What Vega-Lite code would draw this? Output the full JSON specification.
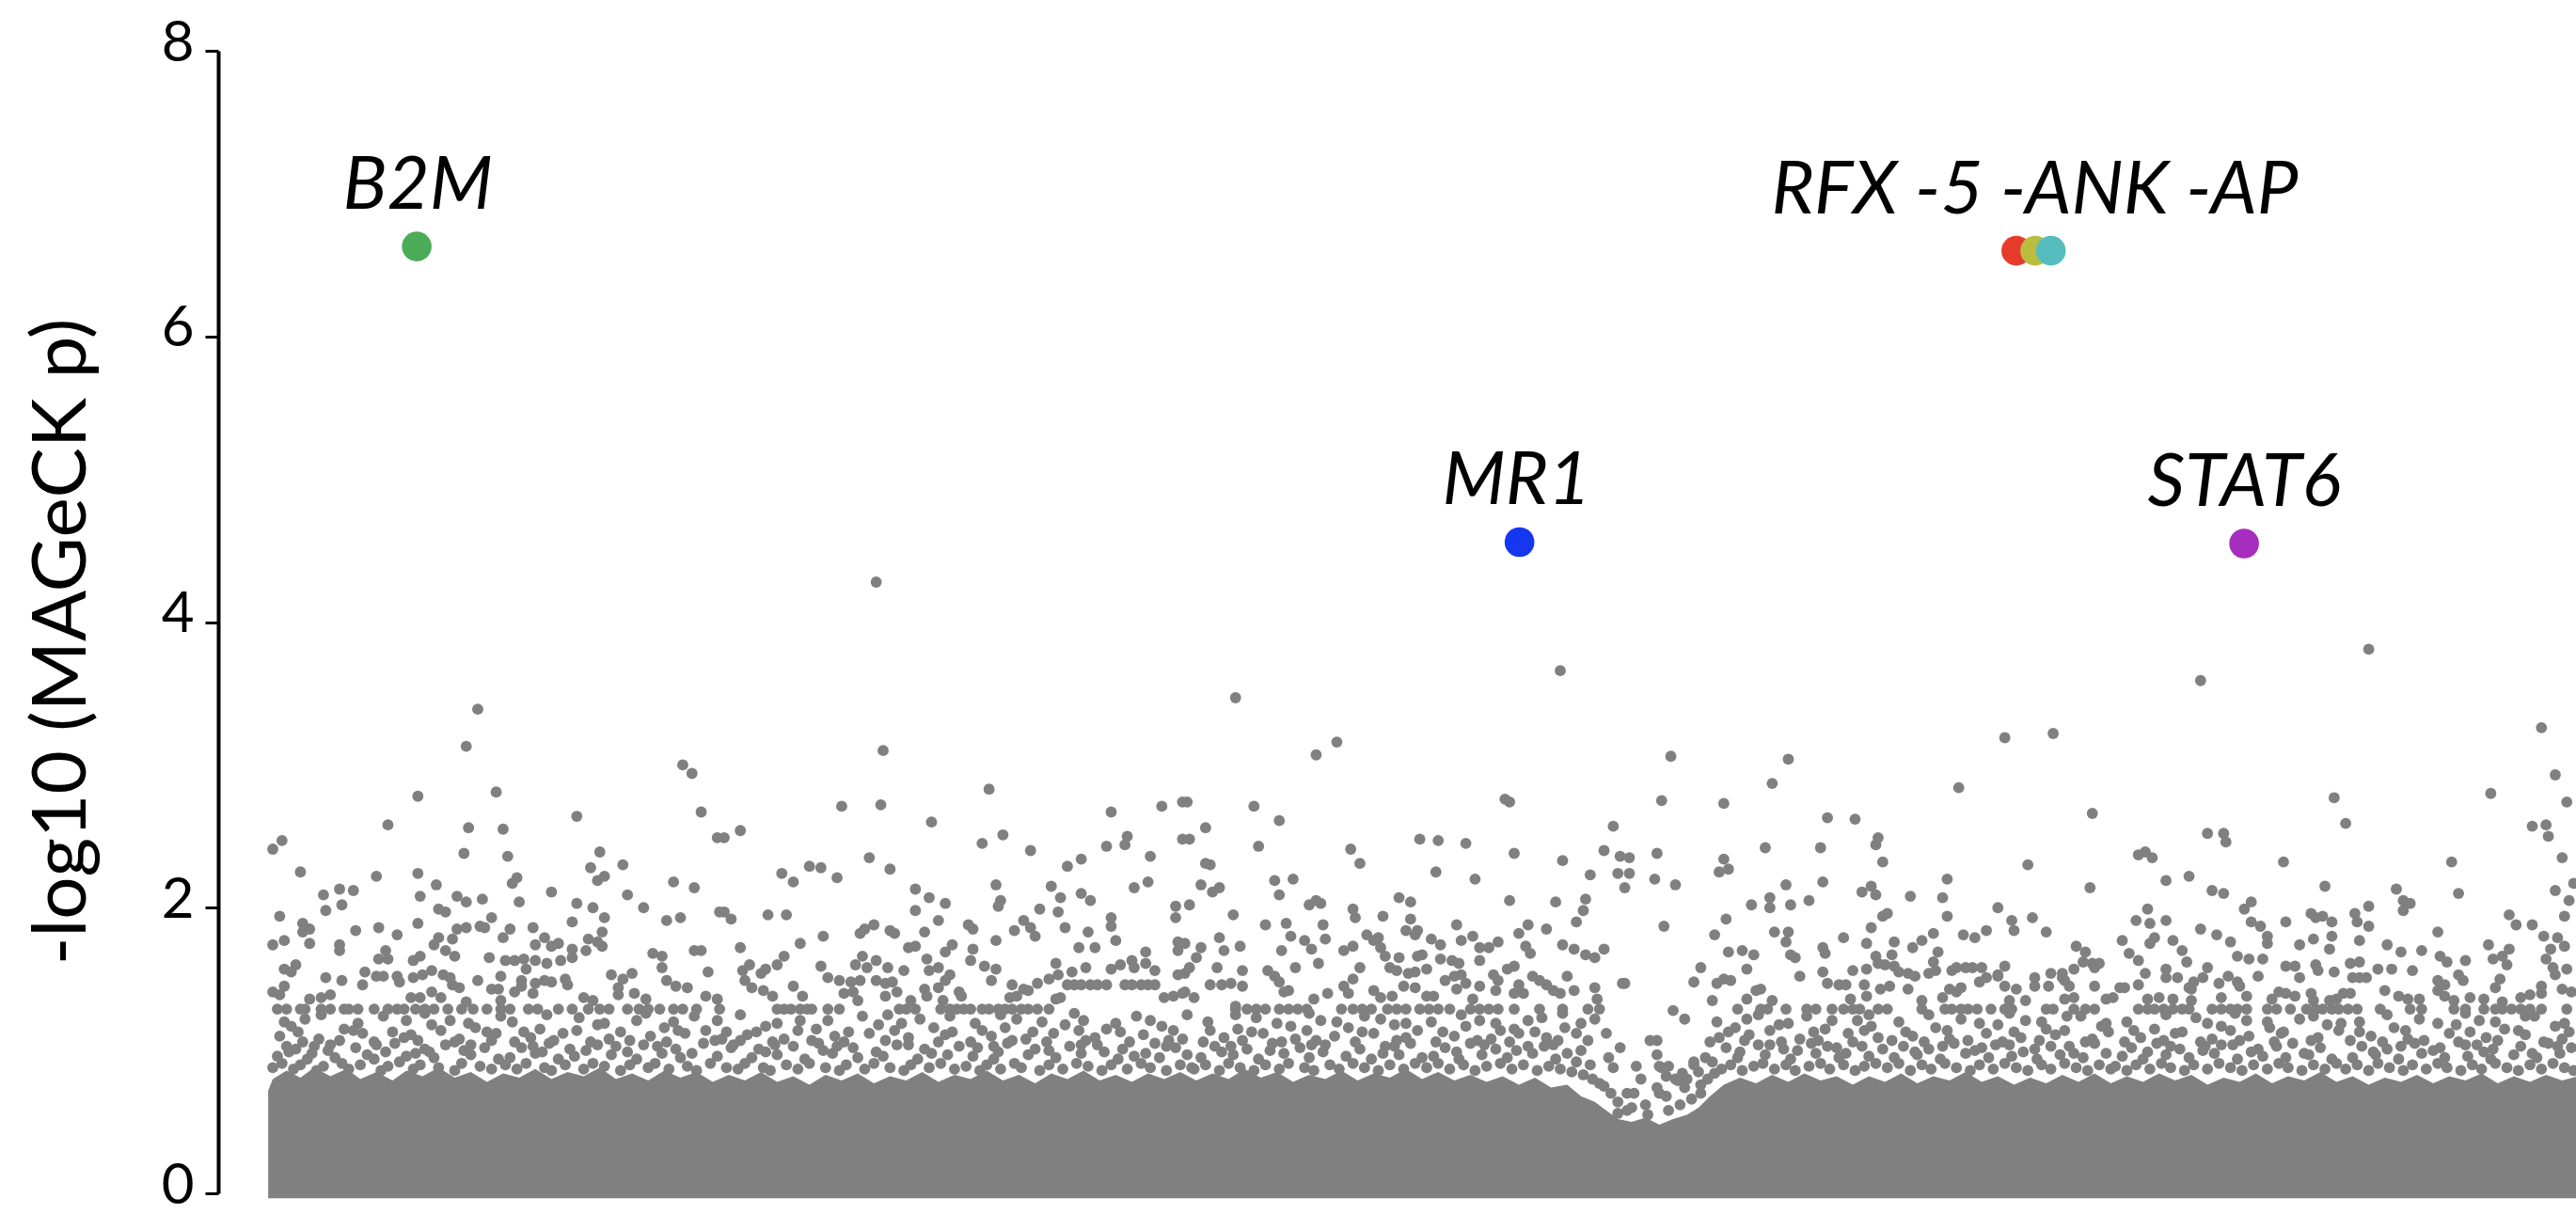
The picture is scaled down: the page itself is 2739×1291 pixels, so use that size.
{
"$schema":"https://vega.github.io/schema/vega-lite/v6.json",
"autosize":{"type":"none"},
"width":2507,"height":1215,
"padding":{"left":232,"top":54,"right":0,"bottom":22},
"background":"white",
"config":{"view":{"stroke":null},"font":"Lato"},
"datasets":{
"band":[{"u":-2,"v":0.72},{"u":0,"v":0.80},{"u":6,"v":0.86},{"u":12,"v":0.81},{"u":18,"v":0.88},{"u":25,"v":0.82},{"u":32,"v":0.87},{"u":38,"v":0.80},{"u":45,"v":0.85},{"u":52,"v":0.79},{"u":58,"v":0.86},{"u":65,"v":0.82},{"u":72,"v":0.88},{"u":79,"v":0.81},{"u":86,"v":0.85},{"u":93,"v":0.78},{"u":100,"v":0.84},{"u":107,"v":0.81},{"u":114,"v":0.87},{"u":121,"v":0.80},{"u":128,"v":0.85},{"u":135,"v":0.82},{"u":142,"v":0.88},{"u":149,"v":0.80},{"u":156,"v":0.84},{"u":163,"v":0.79},{"u":170,"v":0.86},{"u":177,"v":0.81},{"u":184,"v":0.85},{"u":191,"v":0.78},{"u":198,"v":0.83},{"u":205,"v":0.79},{"u":212,"v":0.85},{"u":219,"v":0.78},{"u":226,"v":0.82},{"u":233,"v":0.76},{"u":240,"v":0.83},{"u":247,"v":0.79},{"u":254,"v":0.84},{"u":261,"v":0.77},{"u":268,"v":0.82},{"u":275,"v":0.79},{"u":282,"v":0.85},{"u":289,"v":0.78},{"u":296,"v":0.83},{"u":303,"v":0.80},{"u":310,"v":0.86},{"u":317,"v":0.79},{"u":324,"v":0.83},{"u":331,"v":0.77},{"u":338,"v":0.84},{"u":345,"v":0.80},{"u":352,"v":0.86},{"u":359,"v":0.79},{"u":366,"v":0.83},{"u":373,"v":0.78},{"u":380,"v":0.84},{"u":387,"v":0.80},{"u":394,"v":0.85},{"u":401,"v":0.79},{"u":408,"v":0.84},{"u":415,"v":0.80},{"u":422,"v":0.87},{"u":429,"v":0.81},{"u":436,"v":0.85},{"u":443,"v":0.78},{"u":450,"v":0.83},{"u":457,"v":0.80},{"u":464,"v":0.86},{"u":471,"v":0.79},{"u":478,"v":0.84},{"u":485,"v":0.81},{"u":492,"v":0.87},{"u":499,"v":0.80},{"u":506,"v":0.85},{"u":513,"v":0.79},{"u":520,"v":0.83},{"u":527,"v":0.78},{"u":534,"v":0.82},{"u":541,"v":0.76},{"u":548,"v":0.81},{"u":555,"v":0.74},{"u":562,"v":0.76},{"u":568,"v":0.68},{"u":574,"v":0.64},{"u":579,"v":0.58},{"u":584,"v":0.52},{"u":590,"v":0.50},{"u":596,"v":0.53},{"u":602,"v":0.48},{"u":608,"v":0.52},{"u":614,"v":0.55},{"u":619,"v":0.60},{"u":624,"v":0.68},{"u":630,"v":0.76},{"u":637,"v":0.81},{"u":644,"v":0.77},{"u":651,"v":0.83},{"u":658,"v":0.78},{"u":665,"v":0.84},{"u":672,"v":0.79},{"u":679,"v":0.82},{"u":686,"v":0.76},{"u":693,"v":0.82},{"u":700,"v":0.78},{"u":707,"v":0.84},{"u":714,"v":0.77},{"u":721,"v":0.82},{"u":728,"v":0.79},{"u":735,"v":0.85},{"u":742,"v":0.78},{"u":749,"v":0.82},{"u":756,"v":0.76},{"u":763,"v":0.81},{"u":770,"v":0.77},{"u":777,"v":0.83},{"u":784,"v":0.78},{"u":791,"v":0.84},{"u":798,"v":0.77},{"u":805,"v":0.82},{"u":812,"v":0.78},{"u":819,"v":0.84},{"u":826,"v":0.79},{"u":833,"v":0.83},{"u":840,"v":0.76},{"u":847,"v":0.81},{"u":854,"v":0.78},{"u":861,"v":0.84},{"u":868,"v":0.77},{"u":875,"v":0.82},{"u":882,"v":0.79},{"u":889,"v":0.85},{"u":896,"v":0.78},{"u":903,"v":0.82},{"u":910,"v":0.76},{"u":917,"v":0.81},{"u":924,"v":0.78},{"u":931,"v":0.83},{"u":938,"v":0.77},{"u":945,"v":0.82},{"u":952,"v":0.79},{"u":959,"v":0.84},{"u":966,"v":0.77},{"u":973,"v":0.82},{"u":980,"v":0.78},{"u":987,"v":0.83},{"u":994,"v":0.79},{"u":1001,"v":0.82},{"u":1010,"v":0.80}],
"genes":[
{"u":89,"v":3.39},{"u":84,"v":3.13},{"u":178,"v":3.00},{"u":182,"v":2.94},{"u":63,"v":2.78},{"u":97,"v":2.81},{"u":186,"v":2.67},{"u":132,"v":2.64},{"u":50,"v":2.58},{"u":85,"v":2.56},{"u":100,"v":2.55},{"u":4,"v":2.47},{"u":0,"v":2.41},{"u":193,"v":2.49},{"u":83,"v":2.38},{"u":102,"v":2.36},{"u":142,"v":2.39},{"u":12,"v":2.25},{"u":63,"v":2.24},{"u":152,"v":2.30},{"u":138,"v":2.28},{"u":141,"v":2.19},{"u":144,"v":2.22},{"u":45,"v":2.22},{"u":106,"v":2.21},{"u":104,"v":2.17},{"u":71,"v":2.16},{"u":174,"v":2.18},{"u":183,"v":2.14},{"u":29,"v":2.13},{"u":35,"v":2.12},{"u":30,"v":2.02},{"u":22,"v":2.09},{"u":23,"v":1.98},{"u":121,"v":2.11},{"u":154,"v":2.09},{"u":64,"v":2.08},{"u":80,"v":2.08},{"u":84,"v":2.04},{"u":91,"v":2.06},{"u":107,"v":2.04},{"u":132,"v":2.03},{"u":139,"v":2.00},{"u":161,"v":2.00},{"u":72,"v":1.99},{"u":75,"v":1.97},{"u":194,"v":1.97},{"u":3,"v":1.94},{"u":144,"v":1.93},{"u":130,"v":1.90},{"u":63,"v":1.89},{"u":95,"v":1.93},{"u":171,"v":1.91},{"u":177,"v":1.93},{"u":13,"v":1.89},{"u":16,"v":1.85},{"u":13,"v":1.83},{"u":36,"v":1.84},{"u":46,"v":1.86},{"u":54,"v":1.81},{"u":80,"v":1.85},{"u":84,"v":1.86},{"u":90,"v":1.87},{"u":92,"v":1.86},{"u":103,"v":1.85},{"u":113,"v":1.86},{"u":143,"v":1.83},{"u":0,"v":1.74},{"u":5,"v":1.77},{"u":16,"v":1.75},{"u":29,"v":1.74},{"u":29,"v":1.70},{"u":72,"v":1.79},{"u":70,"v":1.74},{"u":78,"v":1.78},{"u":100,"v":1.79},{"u":118,"v":1.79},{"u":114,"v":1.74},{"u":124,"v":1.75},{"u":121,"v":1.73},{"u":130,"v":1.71},{"u":136,"v":1.70},{"u":137,"v":1.78},{"u":141,"v":1.76},{"u":143,"v":1.73},{"u":183,"v":1.70},{"u":186,"v":1.70},{"u":49,"v":1.70},{"u":46,"v":1.64},{"u":50,"v":1.64},{"u":61,"v":1.63},{"u":64,"v":1.66},{"u":75,"v":1.70},{"u":79,"v":1.66},{"u":94,"v":1.65},{"u":101,"v":1.63},{"u":105,"v":1.63},{"u":109,"v":1.64},{"u":114,"v":1.63},{"u":119,"v":1.61},{"u":125,"v":1.63},{"u":130,"v":1.65},{"u":165,"v":1.68},{"u":169,"v":1.66},{"u":10,"v":1.60},{"u":5,"v":1.57},{"u":8,"v":1.55},{"u":40,"v":1.55},{"u":45,"v":1.52},{"u":48,"v":1.52},{"u":23,"v":1.51},{"u":30,"v":1.49},{"u":54,"v":1.52},{"u":55,"v":1.48},{"u":61,"v":1.51},{"u":65,"v":1.53},{"u":69,"v":1.56},{"u":74,"v":1.53},{"u":77,"v":1.51},{"u":78,"v":1.46},{"u":81,"v":1.44},{"u":89,"v":1.49},{"u":99,"v":1.52},{"u":110,"v":1.57},{"u":108,"v":1.49},{"u":114,"v":1.47},{"u":118,"v":1.49},{"u":121,"v":1.48},{"u":127,"v":1.50},{"u":128,"v":1.46},{"u":147,"v":1.53},{"u":152,"v":1.50},{"u":156,"v":1.54},{"u":169,"v":1.58},{"u":171,"v":1.49},{"u":175,"v":1.45},{"u":180,"v":1.44},{"u":189,"v":1.55},{"u":0,"v":1.41},{"u":3,"v":1.39},{"u":5,"v":1.45},{"u":16,"v":1.36},{"u":21,"v":1.37},{"u":25,"v":1.39},{"u":39,"v":1.46},{"u":60,"v":1.37},{"u":64,"v":1.37},{"u":69,"v":1.41},{"u":73,"v":1.37},{"u":95,"v":1.43},{"u":98,"v":1.43},{"u":99,"v":1.35},{"u":84,"v":1.34},{"u":105,"v":1.41},{"u":108,"v":1.45},{"u":113,"v":1.40},{"u":135,"v":1.37},{"u":139,"v":1.35},{"u":150,"v":1.44},{"u":150,"v":1.39},{"u":157,"v":1.40},{"u":162,"v":1.36},{"u":188,"v":1.38},{"u":193,"v":1.36},
{"u":262,"v":4.28},{"u":265,"v":3.10},{"u":311,"v":2.83},{"u":247,"v":2.71},{"u":264,"v":2.72},{"u":364,"v":2.67},{"u":386,"v":2.71},{"u":395,"v":2.74},{"u":286,"v":2.60},{"u":203,"v":2.54},{"u":196,"v":2.49},{"u":317,"v":2.51},{"u":308,"v":2.45},{"u":329,"v":2.40},{"u":371,"v":2.50},{"u":370,"v":2.44},{"u":362,"v":2.43},{"u":395,"v":2.48},{"u":259,"v":2.35},{"u":351,"v":2.34},{"u":345,"v":2.29},{"u":381,"v":2.36},{"u":221,"v":2.24},{"u":226,"v":2.18},{"u":233,"v":2.29},{"u":238,"v":2.28},{"u":245,"v":2.21},{"u":268,"v":2.27},{"u":314,"v":2.16},{"u":316,"v":2.05},{"u":315,"v":2.01},{"u":374,"v":2.14},{"u":380,"v":2.18},{"u":279,"v":2.13},{"u":285,"v":2.07},{"u":292,"v":2.03},{"u":279,"v":1.98},{"u":338,"v":2.15},{"u":342,"v":2.07},{"u":351,"v":2.10},{"u":355,"v":2.05},{"u":333,"v":1.99},{"u":341,"v":1.97},{"u":392,"v":2.01},{"u":392,"v":1.93},{"u":196,"v":1.97},{"u":199,"v":1.92},{"u":215,"v":1.95},{"u":223,"v":1.95},{"u":289,"v":1.91},{"u":364,"v":1.93},{"u":364,"v":1.87},{"u":366,"v":1.77},{"u":261,"v":1.88},{"u":257,"v":1.85},{"u":255,"v":1.82},{"u":268,"v":1.84},{"u":270,"v":1.82},{"u":283,"v":1.83},{"u":302,"v":1.88},{"u":304,"v":1.85},{"u":326,"v":1.91},{"u":329,"v":1.86},{"u":331,"v":1.80},{"u":322,"v":1.84},{"u":344,"v":1.86},{"u":354,"v":1.83},{"u":239,"v":1.80},{"u":229,"v":1.75},{"u":314,"v":1.77},{"u":203,"v":1.72},{"u":393,"v":1.76},{"u":393,"v":1.70},{"u":350,"v":1.72},{"u":357,"v":1.72},{"u":276,"v":1.72},{"u":279,"v":1.73},{"u":295,"v":1.74},{"u":292,"v":1.69},{"u":304,"v":1.71},{"u":303,"v":1.63},{"u":379,"v":1.69},{"u":222,"v":1.66},{"u":219,"v":1.60},{"u":207,"v":1.60},{"u":204,"v":1.56},{"u":214,"v":1.57},{"u":212,"v":1.54},{"u":238,"v":1.59},{"u":256,"v":1.66},{"u":258,"v":1.58},{"u":262,"v":1.63},{"u":267,"v":1.58},{"u":253,"v":1.60},{"u":274,"v":1.56},{"u":284,"v":1.64},{"u":285,"v":1.56},{"u":289,"v":1.58},{"u":309,"v":1.59},{"u":314,"v":1.57},{"u":340,"v":1.61},{"u":347,"v":1.55},{"u":353,"v":1.58},{"u":364,"v":1.57},{"u":368,"v":1.60},{"u":373,"v":1.63},{"u":374,"v":1.58},{"u":379,"v":1.61},{"u":383,"v":1.56},{"u":393,"v":1.53},{"u":205,"v":1.49},{"u":208,"v":1.44},{"u":213,"v":1.42},{"u":217,"v":1.38},{"u":226,"v":1.45},{"u":230,"v":1.38},{"u":241,"v":1.51},{"u":246,"v":1.49},{"u":251,"v":1.48},{"u":255,"v":1.49},{"u":252,"v":1.41},{"u":248,"v":1.40},{"u":254,"v":1.35},{"u":262,"v":1.49},{"u":266,"v":1.47},{"u":269,"v":1.48},{"u":266,"v":1.38},{"u":271,"v":1.41},{"u":277,"v":1.35},{"u":283,"v":1.43},{"u":284,"v":1.38},{"u":289,"v":1.44},{"u":292,"v":1.49},{"u":294,"v":1.53},{"u":291,"v":1.35},{"u":298,"v":1.41},{"u":299,"v":1.38},{"u":312,"v":1.49},{"u":321,"v":1.46},{"u":326,"v":1.43},{"u":328,"v":1.42},{"u":332,"v":1.47},{"u":320,"v":1.37},{"u":323,"v":1.38},{"u":337,"v":1.50},{"u":341,"v":1.53},{"u":340,"v":1.36},{"u":342,"v":1.37},{"u":345,"v":1.46},{"u":348,"v":1.46},{"u":351,"v":1.46},{"u":355,"v":1.46},{"u":358,"v":1.46},{"u":362,"v":1.46},{"u":370,"v":1.46},{"u":373,"v":1.46},{"u":377,"v":1.46},{"u":380,"v":1.46},{"u":383,"v":1.46},{"u":387,"v":1.37},{"u":391,"v":1.38},{"u":395,"v":1.40},
{"u":418,"v":3.47},{"u":559,"v":3.66},{"u":462,"v":3.16},{"u":453,"v":3.07},{"u":535,"v":2.76},{"u":537,"v":2.74},{"u":397,"v":2.74},{"u":426,"v":2.71},{"u":437,"v":2.61},{"u":405,"v":2.56},{"u":398,"v":2.48},{"u":428,"v":2.43},{"u":498,"v":2.48},{"u":506,"v":2.47},{"u":518,"v":2.45},{"u":468,"v":2.41},{"u":472,"v":2.31},{"u":539,"v":2.38},{"u":582,"v":2.57},{"u":578,"v":2.40},{"u":585,"v":2.36},{"u":589,"v":2.35},{"u":560,"v":2.33},{"u":405,"v":2.31},{"u":407,"v":2.30},{"u":505,"v":2.25},{"u":572,"v":2.23},{"u":584,"v":2.24},{"u":589,"v":2.24},{"u":587,"v":2.14},{"u":522,"v":2.20},{"u":435,"v":2.19},{"u":443,"v":2.20},{"u":437,"v":2.09},{"u":403,"v":2.16},{"u":408,"v":2.11},{"u":411,"v":2.14},{"u":398,"v":2.02},{"u":450,"v":2.02},{"u":453,"v":2.05},{"u":455,"v":2.03},{"u":489,"v":2.07},{"u":494,"v":2.04},{"u":537,"v":2.05},{"u":557,"v":2.04},{"u":570,"v":2.06},{"u":569,"v":1.98},{"u":566,"v":1.90},{"u":469,"v":1.99},{"u":470,"v":1.93},{"u":417,"v":1.95},{"u":482,"v":1.94},{"u":494,"v":1.92},{"u":492,"v":1.84},{"u":497,"v":1.84},{"u":496,"v":1.81},{"u":431,"v":1.88},{"u":440,"v":1.89},{"u":456,"v":1.88},{"u":442,"v":1.80},{"u":448,"v":1.77},{"u":457,"v":1.78},{"u":514,"v":1.88},{"u":545,"v":1.88},{"u":553,"v":1.85},{"u":541,"v":1.82},{"u":475,"v":1.81},{"u":480,"v":1.79},{"u":503,"v":1.78},{"u":507,"v":1.74},{"u":516,"v":1.77},{"u":521,"v":1.80},{"u":532,"v":1.76},{"u":524,"v":1.72},{"u":528,"v":1.72},{"u":544,"v":1.73},{"u":546,"v":1.68},{"u":560,"v":1.74},{"u":565,"v":1.71},{"u":578,"v":1.71},{"u":570,"v":1.67},{"u":574,"v":1.65},{"u":396,"v":1.75},{"u":403,"v":1.72},{"u":401,"v":1.65},{"u":411,"v":1.79},{"u":413,"v":1.70},{"u":420,"v":1.73},{"u":438,"v":1.70},{"u":451,"v":1.71},{"u":454,"v":1.61},{"u":465,"v":1.70},{"u":469,"v":1.73},{"u":478,"v":1.77},{"u":481,"v":1.72},{"u":483,"v":1.66},{"u":489,"v":1.65},{"u":497,"v":1.66},{"u":499,"v":1.67},{"u":507,"v":1.64},{"u":512,"v":1.63},{"u":515,"v":1.61},{"u":524,"v":1.63},{"u":536,"v":1.57},{"u":539,"v":1.59},{"u":410,"v":1.58},{"u":398,"v":1.58},{"u":396,"v":1.54},{"u":421,"v":1.56},{"u":432,"v":1.56},{"u":435,"v":1.52},{"u":437,"v":1.48},{"u":439,"v":1.41},{"u":444,"v":1.58},{"u":472,"v":1.58},{"u":485,"v":1.58},{"u":488,"v":1.56},{"u":493,"v":1.54},{"u":496,"v":1.55},{"u":501,"v":1.57},{"u":469,"v":1.50},{"u":465,"v":1.45},{"u":467,"v":1.40},{"u":478,"v":1.42},{"u":481,"v":1.37},{"u":486,"v":1.38},{"u":491,"v":1.45},{"u":496,"v":1.44},{"u":501,"v":1.38},{"u":504,"v":1.38},{"u":509,"v":1.49},{"u":513,"v":1.52},{"u":516,"v":1.53},{"u":514,"v":1.43},{"u":518,"v":1.47},{"u":521,"v":1.36},{"u":524,"v":1.45},{"u":530,"v":1.53},{"u":532,"v":1.49},{"u":531,"v":1.42},{"u":541,"v":1.46},{"u":539,"v":1.40},{"u":543,"v":1.40},{"u":547,"v":1.52},{"u":550,"v":1.49},{"u":553,"v":1.46},{"u":556,"v":1.42},{"u":559,"v":1.40},{"u":562,"v":1.52},{"u":565,"v":1.42},{"u":574,"v":1.44},{"u":575,"v":1.36},{"u":586,"v":1.47},{"u":407,"v":1.46},{"u":412,"v":1.46},{"u":416,"v":1.47},{"u":421,"v":1.45},{"u":441,"v":1.42},{"u":452,"v":1.36},{"u":458,"v":1.40},{"u":396,"v":1.41},{"u":400,"v":1.37},{"u":418,"v":1.31},
{"u":752,"v":3.19},{"u":773,"v":3.22},{"u":607,"v":3.06},{"u":658,"v":3.04},{"u":651,"v":2.87},{"u":732,"v":2.84},{"u":603,"v":2.75},{"u":630,"v":2.73},{"u":675,"v":2.63},{"u":687,"v":2.62},{"u":790,"v":2.66},{"u":697,"v":2.49},{"u":696,"v":2.44},{"u":601,"v":2.38},{"u":648,"v":2.42},{"u":672,"v":2.42},{"u":699,"v":2.32},{"u":762,"v":2.30},{"u":630,"v":2.34},{"u":632,"v":2.27},{"u":628,"v":2.25},{"u":600,"v":2.20},{"u":609,"v":2.16},{"u":657,"v":2.16},{"u":673,"v":2.18},{"u":727,"v":2.20},{"u":789,"v":2.14},{"u":690,"v":2.11},{"u":694,"v":2.15},{"u":696,"v":2.09},{"u":711,"v":2.08},{"u":725,"v":2.07},{"u":642,"v":2.02},{"u":650,"v":2.07},{"u":650,"v":2.00},{"u":659,"v":2.02},{"u":667,"v":2.05},{"u":749,"v":2.00},{"u":631,"v":1.92},{"u":701,"v":1.96},{"u":699,"v":1.94},{"u":727,"v":1.94},{"u":755,"v":1.91},{"u":756,"v":1.84},{"u":764,"v":1.93},{"u":604,"v":1.87},{"u":694,"v":1.86},{"u":626,"v":1.81},{"u":652,"v":1.83},{"u":658,"v":1.83},{"u":657,"v":1.76},{"u":682,"v":1.79},{"u":692,"v":1.75},{"u":704,"v":1.76},{"u":721,"v":1.82},{"u":716,"v":1.77},{"u":712,"v":1.72},{"u":734,"v":1.81},{"u":739,"v":1.79},{"u":744,"v":1.84},{"u":770,"v":1.83},{"u":632,"v":1.69},{"u":638,"v":1.70},{"u":643,"v":1.67},{"u":659,"v":1.67},{"u":661,"v":1.65},{"u":673,"v":1.72},{"u":674,"v":1.68},{"u":696,"v":1.66},{"u":703,"v":1.67},{"u":697,"v":1.61},{"u":723,"v":1.69},{"u":783,"v":1.73},{"u":787,"v":1.69},{"u":620,"v":1.58},{"u":640,"v":1.57},{"u":673,"v":1.55},{"u":686,"v":1.56},{"u":692,"v":1.57},{"u":700,"v":1.60},{"u":704,"v":1.59},{"u":706,"v":1.55},{"u":710,"v":1.54},{"u":713,"v":1.52},{"u":719,"v":1.54},{"u":722,"v":1.56},{"u":721,"v":1.62},{"u":729,"v":1.56},{"u":731,"v":1.58},{"u":735,"v":1.58},{"u":738,"v":1.58},{"u":742,"v":1.58},{"u":749,"v":1.53},{"u":752,"v":1.59},{"u":772,"v":1.54},{"u":777,"v":1.54},{"u":778,"v":1.49},{"u":782,"v":1.57},{"u":786,"v":1.62},{"u":790,"v":1.61},{"u":793,"v":1.61},{"u":791,"v":1.58},{"u":617,"v":1.48},{"u":627,"v":1.47},{"u":630,"v":1.50},{"u":633,"v":1.49},{"u":663,"v":1.52},{"u":675,"v":1.47},{"u":680,"v":1.46},{"u":683,"v":1.46},{"u":691,"v":1.46},{"u":698,"v":1.43},{"u":702,"v":1.45},{"u":710,"v":1.43},{"u":716,"v":1.35},{"u":725,"v":1.37},{"u":728,"v":1.43},{"u":731,"v":1.41},{"u":733,"v":1.44},{"u":741,"v":1.48},{"u":744,"v":1.51},{"u":749,"v":1.52},{"u":752,"v":1.45},{"u":757,"v":1.43},{"u":765,"v":1.51},{"u":765,"v":1.45},{"u":771,"v":1.45},{"u":777,"v":1.51},{"u":780,"v":1.45},{"u":791,"v":1.45},{"u":796,"v":1.36},{"u":625,"v":1.35},{"u":640,"v":1.36},{"u":644,"v":1.42},{"u":646,"v":1.43},{"u":651,"v":1.35},{"u":685,"v":1.36},{"u":692,"v":1.38},{"u":754,"v":1.35},{"u":761,"v":1.35},{"u":778,"v":1.36},{"u":782,"v":1.37},
{"u":910,"v":3.81},{"u":837,"v":3.59},{"u":985,"v":3.26},{"u":991,"v":2.93},{"u":895,"v":2.77},{"u":963,"v":2.80},{"u":996,"v":2.74},{"u":900,"v":2.59},{"u":981,"v":2.57},{"u":987,"v":2.58},{"u":988,"v":2.50},{"u":840,"v":2.52},{"u":847,"v":2.52},{"u":848,"v":2.46},{"u":813,"v":2.39},{"u":810,"v":2.37},{"u":816,"v":2.35},{"u":873,"v":2.32},{"u":946,"v":2.32},{"u":994,"v":2.35},{"u":822,"v":2.19},{"u":832,"v":2.22},{"u":891,"v":2.15},{"u":842,"v":2.12},{"u":847,"v":2.10},{"u":922,"v":2.13},{"u":949,"v":2.10},{"u":991,"v":2.12},{"u":999,"v":2.17},{"u":997,"v":2.05},{"u":925,"v":2.05},{"u":928,"v":2.03},{"u":925,"v":1.98},{"u":859,"v":2.04},{"u":856,"v":1.99},{"u":814,"v":1.99},{"u":910,"v":2.01},{"u":885,"v":1.96},{"u":887,"v":1.93},{"u":890,"v":1.94},{"u":904,"v":1.96},{"u":905,"v":1.90},{"u":910,"v":1.87},{"u":971,"v":1.95},{"u":974,"v":1.88},{"u":981,"v":1.88},{"u":995,"v":1.94},{"u":809,"v":1.91},{"u":815,"v":1.89},{"u":822,"v":1.91},{"u":874,"v":1.90},{"u":894,"v":1.90},{"u":859,"v":1.90},{"u":863,"v":1.87},{"u":837,"v":1.85},{"u":844,"v":1.81},{"u":940,"v":1.83},{"u":817,"v":1.79},{"u":815,"v":1.75},{"u":803,"v":1.77},{"u":825,"v":1.77},{"u":850,"v":1.76},{"u":866,"v":1.80},{"u":866,"v":1.75},{"u":880,"v":1.74},{"u":886,"v":1.78},{"u":894,"v":1.80},{"u":893,"v":1.71},{"u":906,"v":1.77},{"u":918,"v":1.74},{"u":962,"v":1.74},{"u":986,"v":1.80},{"u":992,"v":1.79},{"u":995,"v":1.73},{"u":829,"v":1.70},{"u":831,"v":1.62},{"u":806,"v":1.68},{"u":810,"v":1.63},{"u":853,"v":1.66},{"u":858,"v":1.64},{"u":864,"v":1.64},{"u":924,"v":1.69},{"u":933,"v":1.70},{"u":941,"v":1.66},{"u":944,"v":1.62},{"u":952,"v":1.63},{"u":964,"v":1.64},{"u":968,"v":1.66},{"u":970,"v":1.60},{"u":971,"v":1.71},{"u":987,"v":1.64},{"u":989,"v":1.71},{"u":902,"v":1.61},{"u":906,"v":1.62},{"u":874,"v":1.59},{"u":878,"v":1.59},{"u":880,"v":1.51},{"u":887,"v":1.60},{"u":888,"v":1.56},{"u":895,"v":1.55},{"u":813,"v":1.54},{"u":822,"v":1.57},{"u":822,"v":1.51},{"u":827,"v":1.51},{"u":832,"v":1.44},{"u":834,"v":1.48},{"u":838,"v":1.51},{"u":840,"v":1.58},{"u":845,"v":1.47},{"u":849,"v":1.52},{"u":853,"v":1.48},{"u":854,"v":1.45},{"u":862,"v":1.52},{"u":914,"v":1.57},{"u":920,"v":1.57},{"u":929,"v":1.56},{"u":903,"v":1.51},{"u":906,"v":1.51},{"u":909,"v":1.51},{"u":940,"v":1.49},{"u":943,"v":1.46},{"u":949,"v":1.53},{"u":951,"v":1.49},{"u":967,"v":1.50},{"u":965,"v":1.44},{"u":990,"v":1.58},{"u":991,"v":1.53},{"u":996,"v":1.57},{"u":994,"v":1.43},{"u":985,"v":1.45},{"u":802,"v":1.44},{"u":804,"v":1.44},{"u":799,"v":1.37},{"u":810,"v":1.46},{"u":814,"v":1.36},{"u":819,"v":1.37},{"u":825,"v":1.36},{"u":833,"v":1.43},{"u":833,"v":1.35},{"u":846,"v":1.37},{"u":857,"v":1.38},{"u":868,"v":1.36},{"u":871,"v":1.41},{"u":874,"v":1.40},{"u":878,"v":1.38},{"u":885,"v":1.40},{"u":886,"v":1.35},{"u":893,"v":1.35},{"u":896,"v":1.36},{"u":899,"v":1.40},{"u":902,"v":1.40},{"u":917,"v":1.42},{"u":923,"v":1.38},{"u":927,"v":1.36},{"u":932,"v":1.36},{"u":940,"v":1.42},{"u":943,"v":1.38},{"u":947,"v":1.35},{"u":954,"v":1.37},{"u":960,"v":1.36},{"u":968,"v":1.34},{"u":976,"v":1.37},{"u":980,"v":1.39},{"u":985,"v":1.40},{"u":998,"v":1.41},
{"u":2,"v":1.29},{"u":6,"v":1.29},{"u":12,"v":1.29},{"u":14,"v":1.29},{"u":21,"v":1.29},{"u":25,"v":1.29},{"u":31,"v":1.29},{"u":33,"v":1.29},{"u":37,"v":1.29},{"u":44,"v":1.29},{"u":50,"v":1.29},{"u":54,"v":1.29},{"u":57,"v":1.29},{"u":62,"v":1.29},{"u":66,"v":1.29},{"u":70,"v":1.29},{"u":76,"v":1.29},{"u":82,"v":1.29},{"u":87,"v":1.29},{"u":93,"v":1.29},{"u":99,"v":1.29},{"u":103,"v":1.29},{"u":111,"v":1.29},{"u":115,"v":1.29},{"u":124,"v":1.29},{"u":130,"v":1.29},{"u":137,"v":1.29},{"u":142,"v":1.29},{"u":146,"v":1.29},{"u":154,"v":1.29},{"u":159,"v":1.29},{"u":163,"v":1.29},{"u":168,"v":1.29},{"u":174,"v":1.29},{"u":178,"v":1.29},{"u":184,"v":1.29},{"u":194,"v":1.29},{"u":219,"v":1.29},{"u":222,"v":1.29},{"u":225,"v":1.29},{"u":229,"v":1.29},{"u":232,"v":1.29},{"u":234,"v":1.29},{"u":241,"v":1.29},{"u":246,"v":1.29},{"u":272,"v":1.29},{"u":275,"v":1.29},{"u":279,"v":1.29},{"u":290,"v":1.29},{"u":294,"v":1.29},{"u":297,"v":1.29},{"u":300,"v":1.29},{"u":303,"v":1.29},{"u":308,"v":1.29},{"u":311,"v":1.29},{"u":315,"v":1.29},{"u":318,"v":1.29},{"u":321,"v":1.29},{"u":325,"v":1.29},{"u":328,"v":1.29},{"u":332,"v":1.29},{"u":337,"v":1.29},{"u":418,"v":1.29},{"u":423,"v":1.29},{"u":427,"v":1.29},{"u":431,"v":1.29},{"u":437,"v":1.29},{"u":441,"v":1.29},{"u":445,"v":1.29},{"u":449,"v":1.29},{"u":464,"v":1.29},{"u":469,"v":1.29},{"u":473,"v":1.29},{"u":477,"v":1.29},{"u":484,"v":1.29},{"u":488,"v":1.29},{"u":492,"v":1.29},{"u":498,"v":1.29},{"u":502,"v":1.29},{"u":506,"v":1.29},{"u":511,"v":1.29},{"u":520,"v":1.29},{"u":524,"v":1.29},{"u":528,"v":1.29},{"u":532,"v":1.29},{"u":539,"v":1.29},{"u":550,"v":1.29},{"u":560,"v":1.29},{"u":571,"v":1.29},{"u":576,"v":1.29},{"u":636,"v":1.29},{"u":646,"v":1.29},{"u":649,"v":1.29},{"u":657,"v":1.29},{"u":666,"v":1.29},{"u":670,"v":1.29},{"u":677,"v":1.29},{"u":682,"v":1.29},{"u":686,"v":1.29},{"u":689,"v":1.29},{"u":697,"v":1.29},{"u":701,"v":1.29},{"u":716,"v":1.29},{"u":726,"v":1.29},{"u":729,"v":1.29},{"u":733,"v":1.29},{"u":736,"v":1.29},{"u":740,"v":1.29},{"u":746,"v":1.29},{"u":752,"v":1.29},{"u":755,"v":1.29},{"u":770,"v":1.29},{"u":773,"v":1.29},{"u":782,"v":1.29},{"u":787,"v":1.29},{"u":791,"v":1.29},{"u":810,"v":1.29},{"u":814,"v":1.29},{"u":817,"v":1.29},{"u":821,"v":1.29},{"u":825,"v":1.29},{"u":829,"v":1.29},{"u":832,"v":1.29},{"u":842,"v":1.29},{"u":846,"v":1.29},{"u":850,"v":1.29},{"u":853,"v":1.29},{"u":857,"v":1.29},{"u":866,"v":1.29},{"u":870,"v":1.29},{"u":876,"v":1.29},{"u":883,"v":1.29},{"u":887,"v":1.29},{"u":890,"v":1.29},{"u":894,"v":1.29},{"u":897,"v":1.29},{"u":901,"v":1.29},{"u":905,"v":1.29},{"u":915,"v":1.29},{"u":928,"v":1.29},{"u":933,"v":1.29},{"u":947,"v":1.29},{"u":952,"v":1.29},{"u":960,"v":1.29},{"u":965,"v":1.29},{"u":968,"v":1.29},{"u":972,"v":1.29},{"u":976,"v":1.29},{"u":980,"v":1.29},{"u":985,"v":1.29},{"u":996,"v":1.29},
{"u":0,"v":0.88},{"u":4,"v":0.91},{"u":9,"v":0.87},{"u":12,"v":0.90},{"u":19,"v":0.86},{"u":22,"v":0.89},{"u":30,"v":0.91},{"u":33,"v":0.87},{"u":38,"v":0.90},{"u":47,"v":0.86},{"u":50,"v":0.89},{"u":55,"v":0.92},{"u":61,"v":0.87},{"u":64,"v":0.90},{"u":72,"v":0.88},{"u":79,"v":0.86},{"u":82,"v":0.91},{"u":90,"v":0.89},{"u":95,"v":0.87},{"u":2,"v":0.96},{"u":15,"v":0.94},{"u":17,"v":0.98},{"u":27,"v":0.95},{"u":41,"v":0.97},{"u":44,"v":0.94},{"u":58,"v":0.96},{"u":68,"v":0.99},{"u":70,"v":0.95},{"u":86,"v":0.97},{"u":98,"v":0.94},{"u":6,"v":1.03},{"u":10,"v":1.01},{"u":25,"v":1.04},{"u":36,"v":1.02},{"u":53,"v":1.05},{"u":66,"v":1.01},{"u":75,"v":1.04},{"u":92,"v":1.02},{"u":3,"v":1.10},{"u":20,"v":1.08},{"u":39,"v":1.12},{"u":57,"v":1.09},{"u":60,"v":1.11},{"u":81,"v":1.08},{"u":97,"v":1.12},{"u":8,"v":1.17},{"u":31,"v":1.15},{"u":69,"v":1.18},{"u":88,"v":1.16},{"u":14,"v":1.22},{"u":48,"v":1.24},{"u":77,"v":1.21},
{"u":13,"v":1.06},{"u":29,"v":1.07},{"u":44,"v":1.06},{"u":63,"v":1.07},{"u":79,"v":1.06},{"u":95,"v":1.07},{"u":11,"v":1.13},{"u":35,"v":1.14},{"u":52,"v":1.13},{"u":73,"v":1.14},{"u":93,"v":1.13},{"u":7,"v":0.99},{"u":24,"v":1.00},{"u":49,"v":0.99},{"u":62,"v":0.98},{"u":83,"v":1.00},
{"u":5,"v":1.20},{"u":21,"v":1.25},{"u":37,"v":1.19},{"u":58,"v":1.21},{"u":66,"v":1.26},{"u":85,"v":1.19},{"u":99,"v":1.24},{"u":18,"v":1.03},{"u":45,"v":1.04},{"u":86,"v":1.04},
{"u":101,"v":0.90},{"u":106,"v":0.87},{"u":110,"v":0.91},{"u":118,"v":0.88},{"u":121,"v":0.86},{"u":127,"v":0.90},{"u":135,"v":0.87},{"u":139,"v":0.91},{"u":144,"v":0.89},{"u":151,"v":0.86},{"u":155,"v":0.90},{"u":163,"v":0.88},{"u":166,"v":0.91},{"u":172,"v":0.87},{"u":180,"v":0.89},{"u":184,"v":0.86},{"u":190,"v":0.91},{"u":197,"v":0.88},{"u":103,"v":0.95},{"u":114,"v":0.98},{"u":124,"v":0.94},{"u":131,"v":0.96},{"u":147,"v":0.97},{"u":158,"v":0.94},{"u":169,"v":0.98},{"u":177,"v":0.95},{"u":193,"v":0.96},{"u":108,"v":1.02},{"u":120,"v":1.05},{"u":129,"v":1.01},{"u":149,"v":1.03},{"u":161,"v":1.04},{"u":175,"v":1.01},{"u":187,"v":1.05},{"u":199,"v":1.02},{"u":112,"v":1.09},{"u":126,"v":1.12},{"u":146,"v":1.08},{"u":164,"v":1.10},{"u":179,"v":1.12},{"u":195,"v":1.08},{"u":116,"v":1.15},{"u":141,"v":1.18},{"u":170,"v":1.16},{"u":188,"v":1.14},{"u":133,"v":1.23},{"u":158,"v":1.21},{"u":183,"v":1.24},
{"u":105,"v":1.06},{"u":122,"v":1.07},{"u":138,"v":1.06},{"u":155,"v":1.07},{"u":171,"v":1.06},{"u":192,"v":1.07},{"u":109,"v":1.13},{"u":132,"v":1.14},{"u":151,"v":1.13},{"u":176,"v":1.14},{"u":197,"v":1.13},{"u":117,"v":0.99},{"u":136,"v":1.00},{"u":154,"v":0.99},{"u":182,"v":0.98},
{"u":104,"v":1.20},{"u":119,"v":1.25},{"u":144,"v":1.19},{"u":162,"v":1.26},{"u":174,"v":1.20},{"u":193,"v":1.21},{"u":113,"v":1.03},{"u":141,"v":1.04},{"u":167,"v":1.03},
{"u":202,"v":0.87},{"u":205,"v":0.91},{"u":213,"v":0.88},{"u":216,"v":0.86},{"u":223,"v":0.90},{"u":228,"v":0.87},{"u":233,"v":0.91},{"u":240,"v":0.88},{"u":246,"v":0.86},{"u":249,"v":0.90},{"u":257,"v":0.87},{"u":261,"v":0.91},{"u":268,"v":0.88},{"u":274,"v":0.86},{"u":277,"v":0.90},{"u":285,"v":0.88},{"u":290,"v":0.91},{"u":296,"v":0.87},{"u":208,"v":0.95},{"u":219,"v":0.97},{"u":231,"v":0.94},{"u":243,"v":0.98},{"u":254,"v":0.95},{"u":265,"v":0.96},{"u":280,"v":0.94},{"u":293,"v":0.97},{"u":200,"v":1.04},{"u":211,"v":1.01},{"u":226,"v":1.03},{"u":237,"v":1.05},{"u":252,"v":1.02},{"u":271,"v":1.04},{"u":283,"v":1.01},{"u":298,"v":1.03},{"u":206,"v":1.11},{"u":222,"v":1.08},{"u":244,"v":1.10},{"u":259,"v":1.12},{"u":276,"v":1.09},{"u":292,"v":1.11},{"u":214,"v":1.17},{"u":236,"v":1.15},{"u":263,"v":1.18},{"u":287,"v":1.16},{"u":229,"v":1.21},{"u":256,"v":1.24},{"u":281,"v":1.22},
{"u":203,"v":1.07},{"u":217,"v":1.06},{"u":234,"v":1.07},{"u":248,"v":1.06},{"u":266,"v":1.07},{"u":289,"v":1.06},{"u":210,"v":1.13},{"u":228,"v":1.14},{"u":250,"v":1.13},{"u":270,"v":1.14},{"u":295,"v":1.13},{"u":214,"v":0.99},{"u":239,"v":1.00},{"u":262,"v":0.99},{"u":286,"v":0.98},
{"u":203,"v":1.25},{"u":219,"v":1.19},{"u":241,"v":1.21},{"u":267,"v":1.25},{"u":273,"v":1.19},{"u":294,"v":1.24},{"u":218,"v":1.04},{"u":245,"v":1.03},{"u":276,"v":1.04},
{"u":301,"v":0.89},{"u":307,"v":0.86},{"u":310,"v":0.90},{"u":316,"v":0.87},{"u":322,"v":0.91},{"u":325,"v":0.88},{"u":333,"v":0.86},{"u":337,"v":0.90},{"u":343,"v":0.87},{"u":349,"v":0.91},{"u":354,"v":0.89},{"u":360,"v":0.86},{"u":364,"v":0.90},{"u":371,"v":0.87},{"u":377,"v":0.91},{"u":381,"v":0.88},{"u":388,"v":0.86},{"u":394,"v":0.90},{"u":399,"v":0.88},{"u":304,"v":0.96},{"u":313,"v":0.94},{"u":328,"v":0.97},{"u":340,"v":0.95},{"u":351,"v":0.98},{"u":367,"v":0.94},{"u":374,"v":0.96},{"u":385,"v":0.95},{"u":397,"v":0.97},{"u":306,"v":1.02},{"u":319,"v":1.05},{"u":331,"v":1.01},{"u":346,"v":1.03},{"u":358,"v":1.04},{"u":369,"v":1.01},{"u":383,"v":1.05},{"u":392,"v":1.02},{"u":312,"v":1.10},{"u":327,"v":1.08},{"u":339,"v":1.12},{"u":357,"v":1.09},{"u":378,"v":1.11},{"u":395,"v":1.08},{"u":318,"v":1.16},{"u":344,"v":1.18},{"u":362,"v":1.15},{"u":386,"v":1.17},{"u":323,"v":1.22},{"u":352,"v":1.21},{"u":375,"v":1.24},
{"u":303,"v":1.06},{"u":321,"v":1.07},{"u":336,"v":1.06},{"u":353,"v":1.07},{"u":372,"v":1.06},{"u":389,"v":1.07},{"u":308,"v":1.14},{"u":330,"v":1.13},{"u":350,"v":1.14},{"u":368,"v":1.13},{"u":391,"v":1.14},{"u":315,"v":0.99},{"u":337,"v":1.00},{"u":361,"v":0.99},{"u":379,"v":0.98},
{"u":305,"v":1.19},{"u":316,"v":1.25},{"u":334,"v":1.20},{"u":348,"v":1.26},{"u":366,"v":1.19},{"u":381,"v":1.21},{"u":397,"v":1.25},{"u":313,"v":1.03},{"u":351,"v":1.04},{"u":388,"v":1.03},
{"u":400,"v":0.87},{"u":405,"v":0.90},{"u":411,"v":0.86},{"u":415,"v":0.91},{"u":420,"v":0.88},{"u":426,"v":0.86},{"u":431,"v":0.90},{"u":437,"v":0.87},{"u":441,"v":0.91},{"u":448,"v":0.88},{"u":452,"v":0.86},{"u":459,"v":0.90},{"u":463,"v":0.87},{"u":469,"v":0.91},{"u":474,"v":0.88},{"u":480,"v":0.86},{"u":485,"v":0.90},{"u":491,"v":0.87},{"u":496,"v":0.91},{"u":403,"v":0.95},{"u":417,"v":0.97},{"u":428,"v":0.94},{"u":439,"v":0.98},{"u":450,"v":0.95},{"u":466,"v":0.96},{"u":477,"v":0.94},{"u":489,"v":0.97},{"u":499,"v":0.95},{"u":409,"v":1.03},{"u":423,"v":1.01},{"u":434,"v":1.05},{"u":446,"v":1.02},{"u":457,"v":1.04},{"u":472,"v":1.01},{"u":483,"v":1.03},{"u":494,"v":1.05},{"u":413,"v":1.09},{"u":430,"v":1.12},{"u":444,"v":1.08},{"u":461,"v":1.10},{"u":478,"v":1.12},{"u":492,"v":1.09},{"u":419,"v":1.15},{"u":442,"v":1.17},{"u":467,"v":1.16},{"u":487,"v":1.18},{"u":427,"v":1.23},{"u":455,"v":1.21},{"u":481,"v":1.22},
{"u":404,"v":1.06},{"u":421,"v":1.07},{"u":438,"v":1.06},{"u":453,"v":1.07},{"u":470,"v":1.06},{"u":488,"v":1.07},{"u":407,"v":1.14},{"u":425,"v":1.13},{"u":449,"v":1.14},{"u":473,"v":1.13},{"u":497,"v":1.14},{"u":412,"v":0.99},{"u":433,"v":1.00},{"u":456,"v":0.99},{"u":482,"v":0.98},
{"u":406,"v":1.20},{"u":418,"v":1.25},{"u":436,"v":1.19},{"u":450,"v":1.26},{"u":462,"v":1.20},{"u":474,"v":1.24},{"u":492,"v":1.19},{"u":416,"v":1.03},{"u":451,"v":1.04},{"u":487,"v":1.03},
{"u":501,"v":0.88},{"u":506,"v":0.91},{"u":511,"v":0.87},{"u":517,"v":0.90},{"u":522,"v":0.86},{"u":527,"v":0.89},{"u":533,"v":0.91},{"u":538,"v":0.87},{"u":543,"v":0.90},{"u":549,"v":0.86},{"u":554,"v":0.89},{"u":559,"v":0.87},{"u":564,"v":0.85},{"u":569,"v":0.83},{"u":573,"v":0.80},{"u":576,"v":0.77},{"u":504,"v":0.96},{"u":515,"v":0.94},{"u":525,"v":0.97},{"u":536,"v":0.95},{"u":547,"v":0.98},{"u":557,"v":0.94},{"u":566,"v":0.92},{"u":572,"v":0.90},{"u":509,"v":1.02},{"u":520,"v":1.05},{"u":531,"v":1.01},{"u":545,"v":1.03},{"u":556,"v":1.04},{"u":568,"v":1.00},{"u":513,"v":1.10},{"u":529,"v":1.08},{"u":541,"v":1.12},{"u":553,"v":1.09},{"u":571,"v":1.07},{"u":518,"v":1.17},{"u":539,"v":1.15},{"u":561,"v":1.16},{"u":524,"v":1.21},{"u":551,"v":1.23},{"u":574,"v":1.22},
{"u":505,"v":1.06},{"u":523,"v":1.07},{"u":537,"v":1.06},{"u":558,"v":1.07},{"u":508,"v":1.13},{"u":533,"v":1.14},{"u":548,"v":1.13},{"u":566,"v":1.12},{"u":514,"v":0.99},{"u":540,"v":1.00},{"u":562,"v":0.98},
{"u":503,"v":1.20},{"u":516,"v":1.25},{"u":531,"v":1.19},{"u":545,"v":1.21},{"u":560,"v":1.26},{"u":568,"v":1.19},{"u":526,"v":1.04},{"u":552,"v":1.03},
{"u":578,"v":0.75},{"u":581,"v":0.70},{"u":584,"v":0.64},{"u":588,"v":0.58},{"u":588,"v":0.70},{"u":591,"v":0.70},{"u":594,"v":0.80},{"u":592,"v":0.89},{"u":596,"v":0.62},{"u":598,"v":1.07},{"u":601,"v":1.07},{"u":601,"v":0.74},{"u":602,"v":0.89},{"u":602,"v":0.70},{"u":605,"v":0.68},{"u":605,"v":0.82},{"u":606,"v":0.89},{"u":609,"v":0.80},{"u":610,"v":0.79},{"u":612,"v":0.84},{"u":613,"v":0.74},{"u":614,"v":0.80},{"u":617,"v":0.92},{"u":617,"v":0.90},{"u":619,"v":0.85},{"u":620,"v":0.76},{"u":622,"v":0.95},{"u":587,"v":1.47},{"u":608,"v":1.28},{"u":613,"v":1.22},{"u":601,"v":0.97},{"u":603,"v":0.88},{"u":597,"v":0.55},{"u":590,"v":0.60},{"u":584,"v":0.56},{"u":606,"v":0.58},{"u":611,"v":0.62},{"u":616,"v":0.66},{"u":620,"v":0.70},{"u":580,"v":0.95},{"u":582,"v":0.88},{"u":585,"v":1.02},{"u":579,"v":1.12},
{"u":623,"v":0.80},{"u":626,"v":0.84},{"u":629,"v":0.87},{"u":633,"v":0.90},{"u":638,"v":0.86},{"u":643,"v":0.89},{"u":647,"v":0.91},{"u":652,"v":0.87},{"u":657,"v":0.90},{"u":661,"v":0.86},{"u":667,"v":0.89},{"u":672,"v":0.91},{"u":676,"v":0.87},{"u":682,"v":0.90},{"u":687,"v":0.86},{"u":691,"v":0.89},{"u":696,"v":0.91},{"u":625,"v":0.92},{"u":636,"v":0.95},{"u":648,"v":0.97},{"u":659,"v":0.94},{"u":670,"v":0.98},{"u":680,"v":0.95},{"u":693,"v":0.96},{"u":631,"v":1.02},{"u":645,"v":1.04},{"u":656,"v":1.01},{"u":668,"v":1.05},{"u":679,"v":1.02},{"u":690,"v":1.03},{"u":699,"v":1.01},{"u":628,"v":1.09},{"u":641,"v":1.11},{"u":663,"v":1.08},{"u":684,"v":1.12},{"u":697,"v":1.09},{"u":635,"v":1.16},{"u":654,"v":1.18},{"u":674,"v":1.15},{"u":694,"v":1.17},{"u":640,"v":1.22},{"u":666,"v":1.24},{"u":688,"v":1.21},
{"u":624,"v":1.06},{"u":639,"v":1.07},{"u":655,"v":1.06},{"u":671,"v":1.07},{"u":686,"v":1.06},{"u":632,"v":1.13},{"u":650,"v":1.14},{"u":669,"v":1.13},{"u":691,"v":1.14},{"u":637,"v":0.99},{"u":662,"v":1.00},{"u":683,"v":0.98},
{"u":627,"v":1.20},{"u":645,"v":1.25},{"u":658,"v":1.19},{"u":677,"v":1.21},{"u":693,"v":1.25},{"u":650,"v":1.04},{"u":675,"v":1.03},
{"u":701,"v":0.88},{"u":706,"v":0.91},{"u":711,"v":0.86},{"u":716,"v":0.90},{"u":720,"v":0.87},{"u":726,"v":0.91},{"u":731,"v":0.88},{"u":737,"v":0.86},{"u":741,"v":0.90},{"u":747,"v":0.87},{"u":752,"v":0.91},{"u":757,"v":0.88},{"u":762,"v":0.86},{"u":768,"v":0.90},{"u":772,"v":0.87},{"u":778,"v":0.91},{"u":783,"v":0.88},{"u":788,"v":0.86},{"u":793,"v":0.90},{"u":798,"v":0.87},{"u":704,"v":0.95},{"u":714,"v":0.97},{"u":724,"v":0.94},{"u":735,"v":0.98},{"u":745,"v":0.95},{"u":755,"v":0.96},{"u":766,"v":0.94},{"u":776,"v":0.97},{"u":786,"v":0.95},{"u":796,"v":0.98},{"u":708,"v":1.03},{"u":719,"v":1.01},{"u":730,"v":1.05},{"u":742,"v":1.02},{"u":754,"v":1.04},{"u":765,"v":1.01},{"u":780,"v":1.03},{"u":791,"v":1.05},{"u":712,"v":1.10},{"u":728,"v":1.08},{"u":744,"v":1.12},{"u":759,"v":1.09},{"u":774,"v":1.11},{"u":790,"v":1.08},{"u":722,"v":1.16},{"u":749,"v":1.18},{"u":770,"v":1.15},{"u":794,"v":1.17},{"u":733,"v":1.22},{"u":761,"v":1.21},{"u":785,"v":1.24},
{"u":703,"v":1.07},{"u":717,"v":1.06},{"u":736,"v":1.07},{"u":751,"v":1.06},{"u":767,"v":1.07},{"u":787,"v":1.06},{"u":709,"v":1.13},{"u":727,"v":1.14},{"u":756,"v":1.13},{"u":778,"v":1.14},{"u":797,"v":1.13},{"u":713,"v":0.99},{"u":739,"v":1.00},{"u":760,"v":0.99},{"u":782,"v":0.98},
{"u":706,"v":1.20},{"u":719,"v":1.25},{"u":741,"v":1.19},{"u":754,"v":1.26},{"u":768,"v":1.20},{"u":779,"v":1.24},{"u":796,"v":1.19},{"u":725,"v":1.03},{"u":748,"v":1.04},{"u":772,"v":1.03},
{"u":800,"v":0.89},{"u":805,"v":0.86},{"u":809,"v":0.90},{"u":815,"v":0.87},{"u":820,"v":0.91},{"u":824,"v":0.88},{"u":830,"v":0.86},{"u":834,"v":0.90},{"u":840,"v":0.87},{"u":845,"v":0.91},{"u":850,"v":0.88},{"u":855,"v":0.86},{"u":860,"v":0.90},{"u":866,"v":0.87},{"u":871,"v":0.91},{"u":875,"v":0.88},{"u":881,"v":0.86},{"u":886,"v":0.90},{"u":891,"v":0.87},{"u":896,"v":0.91},{"u":803,"v":0.96},{"u":812,"v":0.94},{"u":822,"v":0.97},{"u":832,"v":0.95},{"u":843,"v":0.98},{"u":853,"v":0.94},{"u":864,"v":0.96},{"u":874,"v":0.95},{"u":884,"v":0.97},{"u":894,"v":0.94},{"u":807,"v":1.02},{"u":818,"v":1.05},{"u":828,"v":1.01},{"u":839,"v":1.03},{"u":851,"v":1.04},{"u":862,"v":1.01},{"u":877,"v":1.05},{"u":889,"v":1.02},{"u":811,"v":1.09},{"u":826,"v":1.12},{"u":842,"v":1.08},{"u":858,"v":1.10},{"u":872,"v":1.12},{"u":888,"v":1.09},{"u":817,"v":1.15},{"u":846,"v":1.17},{"u":867,"v":1.16},{"u":892,"v":1.18},{"u":835,"v":1.23},{"u":857,"v":1.21},{"u":880,"v":1.22},
{"u":804,"v":1.06},{"u":821,"v":1.07},{"u":837,"v":1.06},{"u":854,"v":1.07},{"u":869,"v":1.06},{"u":885,"v":1.07},{"u":808,"v":1.14},{"u":829,"v":1.13},{"u":850,"v":1.14},{"u":873,"v":1.13},{"u":897,"v":1.14},{"u":814,"v":0.99},{"u":838,"v":1.00},{"u":859,"v":0.99},{"u":882,"v":0.98},
{"u":805,"v":1.20},{"u":822,"v":1.25},{"u":840,"v":1.19},{"u":852,"v":1.26},{"u":866,"v":1.20},{"u":886,"v":1.24},{"u":898,"v":1.19},{"u":824,"v":1.03},{"u":846,"v":1.04},{"u":870,"v":1.03},
{"u":900,"v":0.87},{"u":905,"v":0.90},{"u":910,"v":0.86},{"u":914,"v":0.91},{"u":919,"v":0.88},{"u":925,"v":0.86},{"u":929,"v":0.90},{"u":935,"v":0.87},{"u":940,"v":0.91},{"u":944,"v":0.88},{"u":950,"v":0.86},{"u":955,"v":0.90},{"u":959,"v":0.87},{"u":965,"v":0.91},{"u":970,"v":0.88},{"u":975,"v":0.86},{"u":980,"v":0.90},{"u":985,"v":0.87},{"u":990,"v":0.91},{"u":995,"v":0.88},{"u":999,"v":0.86},{"u":903,"v":0.95},{"u":913,"v":0.97},{"u":923,"v":0.94},{"u":933,"v":0.98},{"u":943,"v":0.95},{"u":953,"v":0.96},{"u":963,"v":0.94},{"u":973,"v":0.97},{"u":983,"v":0.95},{"u":993,"v":0.98},{"u":907,"v":1.03},{"u":918,"v":1.01},{"u":930,"v":1.05},{"u":941,"v":1.02},{"u":952,"v":1.04},{"u":964,"v":1.01},{"u":976,"v":1.03},{"u":988,"v":1.05},{"u":998,"v":1.02},{"u":911,"v":1.10},{"u":927,"v":1.08},{"u":945,"v":1.12},{"u":961,"v":1.09},{"u":978,"v":1.11},{"u":994,"v":1.08},{"u":921,"v":1.16},{"u":948,"v":1.18},{"u":969,"v":1.15},{"u":991,"v":1.17},{"u":932,"v":1.22},{"u":958,"v":1.21},{"u":982,"v":1.24},
{"u":902,"v":1.07},{"u":916,"v":1.06},{"u":934,"v":1.07},{"u":949,"v":1.06},{"u":966,"v":1.07},{"u":986,"v":1.06},{"u":906,"v":1.13},{"u":926,"v":1.14},{"u":954,"v":1.13},{"u":975,"v":1.14},{"u":997,"v":1.13},{"u":912,"v":0.99},{"u":938,"v":1.00},{"u":960,"v":0.99},{"u":981,"v":0.98},
{"u":906,"v":1.20},{"u":918,"v":1.25},{"u":940,"v":1.19},{"u":952,"v":1.26},{"u":965,"v":1.20},{"u":978,"v":1.24},{"u":995,"v":1.19},{"u":924,"v":1.03},{"u":957,"v":1.04},{"u":992,"v":1.03}
],
"hits":[{"g":"B2M","u":62.5,"v":6.63},{"g":"RFX5","u":757,"v":6.60},{"g":"RFXANK","u":765.2,"v":6.60},{"g":"RFXAP","u":772,"v":6.60},{"g":"MR1","u":541.3,"v":4.56},{"g":"STAT6","u":855.9,"v":4.55}],
"labels":[{"t":"B2M","u":63,"v":6.63},{"t":"RFX -5 -ANK -AP","u":765,"v":6.60},{"t":"MR1","u":540,"v":4.56},{"t":"STAT6","u":856,"v":4.55}]
},
"encoding":{
"x":{"field":"u","type":"quantitative","scale":{"domain":[-23.7,1000],"nice":false,"zero":false},"axis":null},
"y":{"field":"v","type":"quantitative","scale":{"domain":[0,8],"nice":false,"zero":false},"title":"-log10 (MAGeCK p)","axis":{"values":[0,2,4,6,8],"grid":false,"domainColor":"black","domainWidth":4,"tickColor":"black","tickWidth":3,"tickSize":14,"labelFont":"Lato","labelFontSize":60,"labelColor":"black","labelPadding":12,"labelFlush":false,"labelOffset":-8,"titleFont":"Lato","titleFontSize":80,"titleFontWeight":"normal","titleColor":"black","titlePadding":64,"titleY":628}}
},
"layer":[
{"data":{"name":"band"},"mark":{"type":"area","color":"#808080","interpolate":"linear"},"encoding":{"y2":{"datum":-0.035}}},
{"data":{"name":"genes"},"mark":{"type":"circle","size":140,"color":"#808080","opacity":1}},
{"data":{"name":"hits"},"mark":{"type":"circle","size":1000,"opacity":1},
"encoding":{"color":{"field":"g","type":"nominal","scale":{"domain":["B2M","RFX5","RFXANK","RFXAP","MR1","STAT6"],"range":["#4cab56","#e63b2a","#babd3e","#56bdbf","#1637f0","#a62dbd"]},"legend":null}}},
{"data":{"name":"labels"},"mark":{"type":"text","font":"Lato","fontStyle":"italic","fontSize":78,"dy":-40,"baseline":"alphabetic","align":"center","color":"black"},
"encoding":{"text":{"field":"t","type":"nominal"}}}
]
}
